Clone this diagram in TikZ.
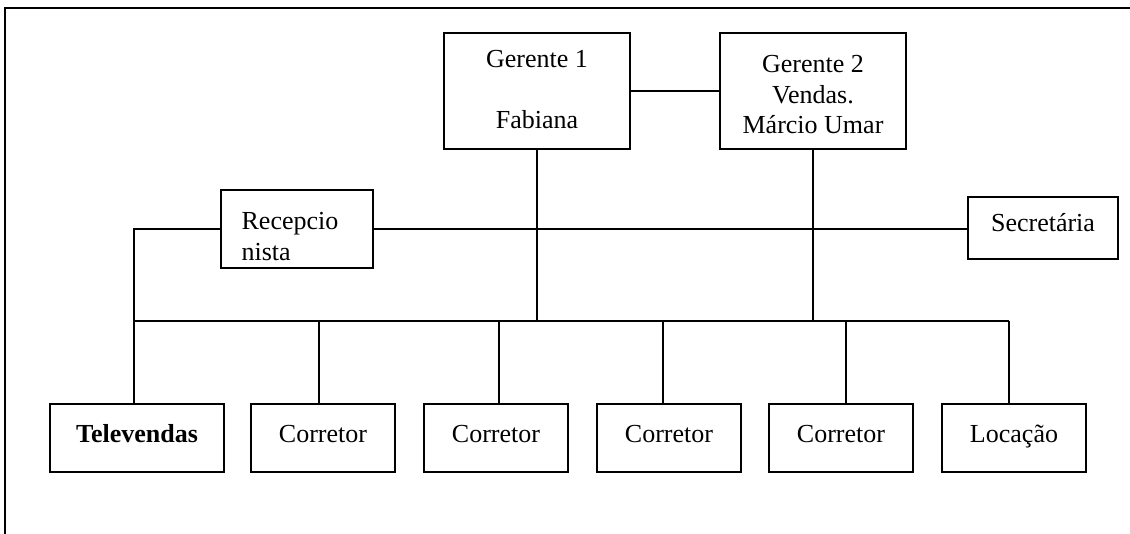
\documentclass[tikz,border=0pt]{standalone}
\usepackage{fontspec}
\setmainfont{Liberation Serif}
\newcommand\rtxt[2]{\raisebox{#1}[0pt][0pt]{#2}}
\begin{document}
\begin{tikzpicture}[x=1pt,y=-1pt,
  box/.style={draw, line width=2pt, inner sep=0pt, minimum height=68pt},
  conn/.style={line width=2pt},
  busline/.style={line width=2pt},
  frame/.style={line width=2.2pt}]
\fontsize{26}{30.5}\selectfont
\useasboundingbox (0,0) rectangle (1130,534);
% frame
\draw[frame] (5,540) -- (5,8) -- (1140,8);
% boxes
\node[box, minimum width=186pt, minimum height=116pt] (g1) at (537,91)
  {\rtxt{23pt}{\begin{tabular}[t]{@{}c@{}}Gerente 1\\ \\Fabiana\end{tabular}}};
\node[box, minimum width=186pt, minimum height=116pt] (g2) at (813,91)
  {\rtxt{18.3pt}{\begin{tabular}[t]{@{}c@{}}Gerente 2\\Vendas.\\Márcio Umar\end{tabular}}};
\node[box, minimum width=152pt, minimum height=78pt] (rec) at (297,229)
  {\hspace*{-14pt}\rtxt{-1pt}{\begin{tabular}[t]{@{}l@{}}Recepcio\\nista\end{tabular}}};
\node[box, minimum width=150pt, minimum height=62pt] (sec) at (1043,228)
  {\rtxt{-3.7pt}{Secretária}};
\node[box, minimum width=174pt] (tel) at (137,438) {\rtxt{-4.5pt}{\textbf{Televendas}}};
\node[box, minimum width=144pt] (c1) at (323,438) {\rtxt{-4.5pt}{Corretor}};
\node[box, minimum width=144pt] (c2) at (496,438) {\rtxt{-4.5pt}{Corretor}};
\node[box, minimum width=144pt] (c3) at (669,438) {\rtxt{-4.5pt}{Corretor}};
\node[box, minimum width=144pt] (c4) at (841,438) {\rtxt{-4.5pt}{Corretor}};
\node[box, minimum width=144pt] (loc) at (1014,438) {\rtxt{-4.5pt}{Locação}};
% coordinates
\coordinate (tl) at (134,229);
\coordinate (busL) at (134,321);
\coordinate (busR) at (1009,321);
\coordinate (b1) at (319,321);
\coordinate (b2) at (499,321);
\coordinate (b3) at (663,321);
\coordinate (b4) at (846,321);
% connectors
\draw[conn] (g1.east) -- (g2.west);
\draw[conn] (g1.south) -- (g1.south |- busL);
\draw[conn] (g2.south) -- (g2.south |- busL);
\draw[conn] (rec.west) -- (tl) -- (tl |- tel.north);
\draw[conn] (rec.east) -- (rec.east -| sec.west);
\draw[busline] (busL) -- (busR);
\draw[conn] (b1) -- (b1 |- c1.north);
\draw[conn] (b2) -- (b2 |- c2.north);
\draw[conn] (b3) -- (b3 |- c3.north);
\draw[conn] (b4) -- (b4 |- c4.north);
\draw[conn] (busR) -- (busR |- loc.north);
\end{tikzpicture}
\end{document}
